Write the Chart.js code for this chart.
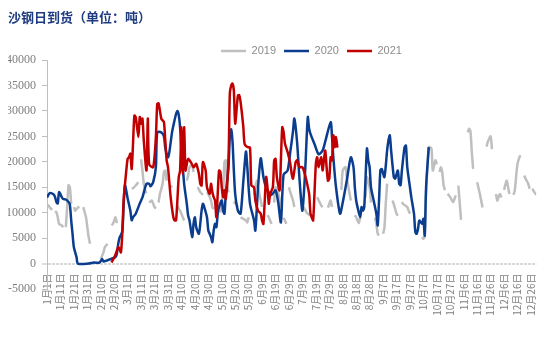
<!DOCTYPE html>
<html>
<head>
<meta charset="utf-8">
<script src="https://cdn.jsdelivr.net/npm/chart.js@4/dist/chart.umd.min.js"></script>
<style>
html,body{margin:0;padding:0;background:#ffffff;}
canvas{display:block;}
</style>
</head>
<body>
<canvas id="c" width="553" height="357"></canvas>
<script>
// ---- tick labels (every 10th day of the year) ----
const tickLabels = ['1月1日','1月11日','1月21日','1月31日','2月10日','2月20日','3月1日','3月11日','3月21日','3月31日',
  '4月10日','4月20日','4月30日','5月10日','5月20日','5月30日','6月9日','6月19日','6月29日','7月9日','7月19日','7月29日',
  '8月8日','8月18日','8月28日','9月7日','9月17日','9月27日','10月7日','10月17日','10月27日','11月6日','11月16日',
  '11月26日','12月6日','12月16日','12月26日'];
const seriesNames = ['2019','2020','2021'];

// ---- 2019 (day of year, tons); null = no data ----
const days2019 = [
  0,1,3,4, 5,
  6,7,8,9,11,12, 13,
  14,15,16,17,18, 19,
  20,21,22,23,24, 25,
  27,29,30,31,32, 35,
  40,42,43,45, 46,
  48,49,50,51,52, 54,
  57,58,59, 61,
  63,64,66,68, 69,
  70,71,72,73,74, 75,
  76,77,78,80,81, 82,
  83,84,86,87,88,89, 90,
  92,93, 95,
  97,98,99,100,101,102, 103,
  104,105,106,108,109, 110,
  112,113,114,116, 117,
  119,120,122,123,124, 126,
  129,131,132,133,134,135, 137,
  139,140,142, 143,
  144,146,148,149,150, 152,
  154,155,156,157,159,160, 162,
  164,165,166,167, 168,
  169,170,172,174, 175,
  176,177,178, 179,
  180,181,183,184, 187,
  191,192,193,194,196, 198,
  201,202,204,205, 207,
  209,210,211,212, 215,
  219,220,222,223,224,226, 227,
  229,230,231,232,233, 235,
  237,238,240,241, 242,
  244,245,246,247, 248,
  250,251,252,253, 255,
  257,258,260,261, 262,
  264,265,268,269,270, 274,
  279,280,281,282,284,286,287,289,290, 291,
  292,293,294,295,296, 297,
  298,300,302,303,304, 305,
  306,307,308, 310,
  313,314,315,316,317, 318,
  320,322,324, 325,
  327,328,330,331, 332,
  334,335,336,337,338, 339,
  340,341,342,343,344, 345,
  347,348,350,352, 353,
  355,356,358,359, 360,
  361,362,363,364
];
const tons2019 = [
  11600,11400,10750,10600, null,
  10300,10100,9100,7800,7500,7150, null,
  7150,11000,15400,15000,11750, null,
  11100,10400,10750,11000,11200, null,
  11100,9100,7150,5200,3900, null,
  900,2200,3200,3900, null,
  7500,7800,8470,9100,7950, null,
  13500,14000,14500, null,
  14700,14800,15350,16000, null,
  20500,18300,15700,14400,13800, null,
  12000,12200,12400,11100,10800, null,
  12000,13700,15700,18000,18300,16300, null,
  15000,15350, null,
  11400,10800,10400,9800,9100,8470, null,
  16300,17300,18950,19300,18000, null,
  15000,14600,14050,13500, null,
  14000,13700,12400,11100,10700, null,
  10000,14000,19950,20300,15700,14000, null,
  11750,12100,11100, null,
  9100,8800,8470,8100,9100, null,
  13500,15000,16300,15000,12400,11100, null,
  9500,9100,8470,7800, null,
  12000,15000,14000,11000, null,
  9000,8470,7800, null,
  15000,14000,12400,11100, null,
  11100,10600,10100,9800,9500, null,
  13050,12500,11400,11100, null,
  11000,11750,12400,11100, null,
  14500,18300,18950,17000,15350,12400, null,
  9500,9100,8470,8000,9100, null,
  13000,17000,15000,12000, null,
  9000,7800,5850,5500, null,
  5850,7000,11750,15700, null,
  12400,11700,9800,9400, null,
  12100,11700,11100,10400,9800, null,
  5200,4850,5500,13700,22900,22600,18300,20300,19500, null,
  18000,18950,18000,15500,14400, null,
  13700,13050,12100,12600,13400, null,
  15350,12000,8600, null,
  25800,26500,26000,22000,18600, null,
  16000,13700,11000, null,
  23000,24000,25000,22500, null,
  13700,12400,13200,13700,13000, null,
  14500,15500,16300,15000,13700, null,
  13500,14400,19600,21300, null,
  17300,16700,15700,14700, null,
  14700,14300,13800,13600
];

// ---- 2020 ----
const days2020 = [0,2,5,6,7,8,9,11,12,14,16,17,18,19,20,22,23,31,35,39,41,42,45,47,49,51,52,53,54,56,57,58,60,62,63,64,66,69,71,74,
  76,77,79,81,82,85,87,88,90,91,93,94,96,97,98,99,100,102,103,104,105,106,108,109,110,111,113,114,115,116,117,119,120,121,122,
  123,124,125,126,127,128,130,131,132,133,135,136,137,138,139,140,142,144,146,148,149,151,154,155,157,159,161,163,167,170,172,
  174,176,179,181,183,184,186,188,190,192,194,195,196,199,202,205,207,211,212,213,215,218,220,223,226,228,229,230,231,233,234,
  235,236,238,239,240,241,243,245,246,247,248,249,251,253,254,255,256,258,259,261,262,263,264,266,267,268,270,271,273,274,275,
  276,277,279,280,281,282,284];
const tons2020 = [13000,13850,13600,13050,12100,11800,14050,13050,12700,12600,12100,11650,8500,5850,3200,1250,0,0,200,200,900,400,650,850,1050,1300,2000,3900,5100,6300,11400,15400,12800,10400,8500,9100,9800,11800,13000,15700,
  15700,15200,16000,18950,25800,25800,25000,22700,20900,21900,25800,27100,29400,30000,29200,26800,22200,15700,13700,11750,9450,8460,5200,7800,9100,7150,5850,7800,10400,11750,11100,9100,6500,5850,5200,
  4200,6500,7800,7150,9800,11100,12400,10400,9800,13700,18950,24900,26400,24000,18300,13700,10400,9800,16000,22000,19000,11800,8500,6500,15000,20700,17000,15000,13500,14400,12000,
  8100,17500,18300,22000,26000,28500,24000,16000,10400,18000,28800,26500,25500,23500,21500,22200,24000,27800,25000,20900,15000,9800,12000,16300,20900,18950,15000,12400,11100,9100,11100,
  10400,11100,22600,20300,18950,15000,12400,9800,7500,12400,18300,18600,17000,22200,24200,25200,22200,17000,16700,18300,15700,15400,18300,22900,23200,18950,15000,13050,9800,6200,5850,
  6850,8470,7800,8800,5500,15000,22900];

// ---- 2021 ----
const days2021 = [48,51,53,54,55,56,57,59,60,61,62,63,64,65,66,68,69,70,71,72,74,75,76,79,81,82,83,85,86,87,88,89,90,92,94,95,96,97,98,99,
  100,101,102,103,104,105,107,109,110,111,113,114,115,116,118,119,121,122,123,124,125,126,127,128,129,130,131,132,133,135,136,137,138,139,140,
  142,143,144,146,147,149,151,152,154,155,157,159,160,161,163,164,165,166,168,169,170,171,173,174,175,176,177,179,181,182,183,185,186,187,188,
  190,191,193,195,196,197,198,200,201,202,204,205,206,207,208,209,210,211,212,213,214,215,216];
const tons2021 = [200,1800,3200,2900,2200,5850,12400,18300,20600,20900,21600,18600,23600,29100,28800,24900,28800,27500,28500,24200,18300,28500,19500,18950,24900,31400,31500,28500,28150,27800,24200,20300,18950,13050,9100,8470,8500,12500,17000,18300,
  26800,17650,26800,18300,19600,20600,19950,18950,19300,19600,17650,15700,15350,19950,18300,15000,13700,15700,14050,13050,12400,9100,13700,18300,18000,15000,13050,14400,12700,20300,33400,35000,35400,34000,27500,
  33000,33100,31800,27000,23500,22900,22800,15350,15000,12400,10400,9800,8470,7800,17000,15000,11750,13700,15000,20300,20600,17000,14400,20300,26800,25850,23600,21900,19600,17650,16700,19950,20300,19600,18950,
  18950,18300,16300,13700,9800,9000,8470,19600,20900,18950,20900,18300,20300,22200,18950,16300,16700,20900,20300,25200,22900,24900,22800];

const toPoints = (d, v) => d.map((x, i) => ({ x: x, y: v[i] }));

const legendShift = {
  id: 'legendShift',
  afterLayout(chart) {
    const lg = chart.legend;
    if (lg) { lg.left += 34; lg.right += 34; }
  }
};

new Chart(document.getElementById('c'), {
  type: 'line',
  data: {
    datasets: [
      { label: seriesNames[0], data: toPoints(days2019, tons2019), borderColor: '#BFBFBF', backgroundColor: '#BFBFBF',
        borderWidth: 2.5, pointRadius: 0, tension: 0.25, spanGaps: false, order: 3 },
      { label: seriesNames[1], data: toPoints(days2020, tons2020), borderColor: '#0B3D8F', backgroundColor: '#0B3D8F',
        borderWidth: 2.5, pointRadius: 0, tension: 0.25, order: 2 },
      { label: seriesNames[2], data: toPoints(days2021, tons2021), borderColor: '#C00000', backgroundColor: '#C00000',
        borderWidth: 2.5, pointRadius: 0, tension: 0.25, order: 1 }
    ]
  },
  options: {
    responsive: false,
    animation: false,
    devicePixelRatio: 1,
    layout: { padding: { left: 8, right: 6, top: 0, bottom: 68 } },
    plugins: {
      title: {
        display: true,
        text: '沙钢日到货（单位：吨）',
        align: 'start',
        color: '#1F3C80',
        font: { family: "'Noto Sans CJK SC'", size: 13, weight: 'bold' },
        padding: { top: 9, bottom: 13 }
      },
      legend: {
        display: true,
        position: 'top',
        align: 'center',
        maxHeight: 22.5,
        labels: {
          usePointStyle: true,
          pointStyle: 'line',
          pointStyleWidth: 25,
          padding: 8,
          color: '#8C8C8C',
          font: { family: "'Liberation Sans'", size: 11 },
          sort: (a, b) => a.datasetIndex - b.datasetIndex
        }
      },
      tooltip: { enabled: false }
    },
    scales: {
      x: {
        type: 'linear',
        position: { y: 0 },
        min: 0,
        max: 364,
        grid: { display: false, drawTicks: false },
        border: { display: false },
        ticks: {
          stepSize: 10,
          autoSkip: false,
          includeBounds: false,
          maxRotation: 90,
          minRotation: 90,
          padding: 10,
          color: '#7F7F7F',
          font: { family: "'Noto Sans CJK SC'", size: 10 },
          callback: (v) => tickLabels[Math.round(v / 10)]
        }
      },
      y: {
        min: -5000,
        max: 40000,
        afterFit(s) { s.width = 39; },
        grid: {
          color: (ctx) => (ctx.tick && ctx.tick.value === 0 ? '#D9D9D9' : 'rgba(0,0,0,0)'),
          lineWidth: (ctx) => (ctx.tick && ctx.tick.value === 0 ? 2 : 1),
          drawTicks: true,
          tickLength: 5,
          tickColor: '#BFBFBF',
          tickWidth: 1
        },
        border: { display: true, color: '#BFBFBF', width: 1, dash: [3, 1] },
        ticks: {
          stepSize: 5000,
          padding: 6,
          color: '#7F7F7F',
          font: { family: "'Liberation Serif'", size: 12 },
          callback: (v) => String(v)
        }
      }
    }
  },
  plugins: [legendShift]
});
</script>
</body>
</html>
